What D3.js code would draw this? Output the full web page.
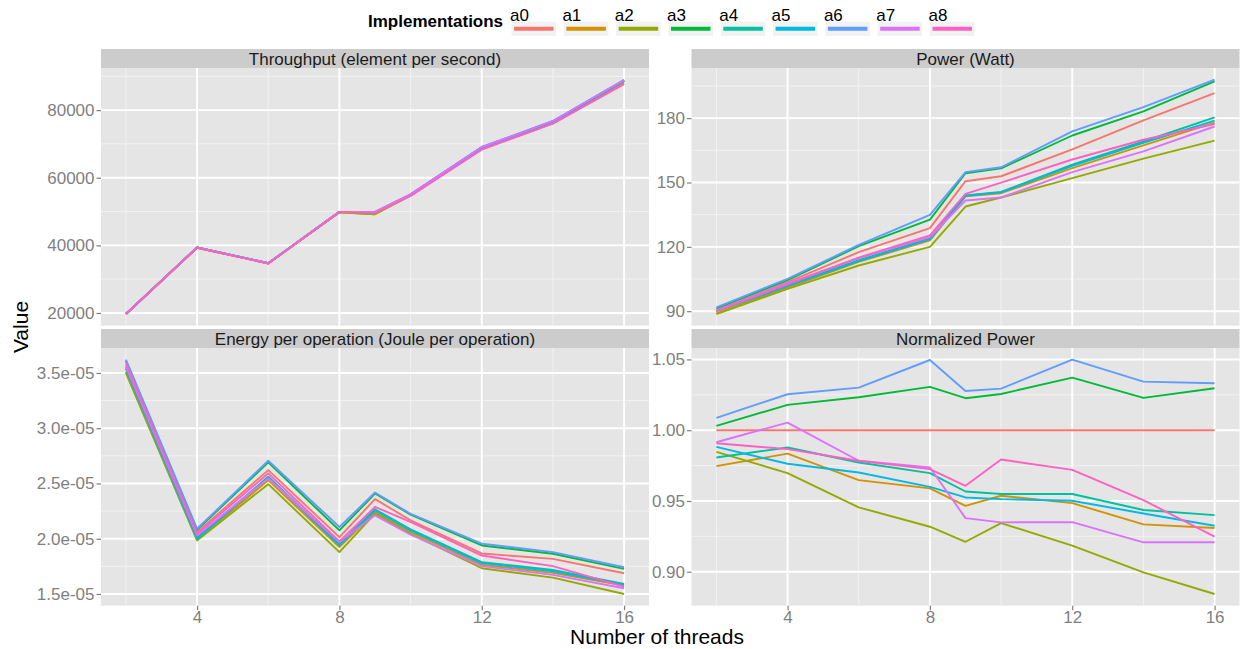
<!DOCTYPE html>
<html><head><meta charset="utf-8">
<script src="https://cdn.jsdelivr.net/npm/d3@7/dist/d3.min.js"></script>
<style>
body{margin:0;background:#fff}
text{font-family:"Liberation Sans",Arial,Helvetica,sans-serif}
</style>
</head><body><svg id="chart" width="1241" height="649"></svg>
<script>
const threads = [2, 4, 6, 8, 9, 10, 12, 14, 16];
const implementations = ["a0", "a1", "a2", "a3", "a4", "a5", "a6", "a7", "a8"];
const colors = ["#F8766D", "#D39200", "#93AA00", "#00BA38", "#00C19F", "#00B9E3", "#619CFF", "#DB72FB", "#FF61C3"];
const facetTitles = ["Throughput (element per second)", "Power (Watt)", "Energy per operation (Joule per operation)", "Normalized Power"];

const throughput = [
  [19700, 39300, 34700, 49900, 49600, 54700, 68500, 76100, 88000],
  [19700, 39300, 34700, 49800, 49200, 54800, 68800, 76500, 88600],
  [19700, 39300, 34700, 49800, 49200, 54800, 68800, 76500, 88600],
  [19700, 39400, 34700, 49900, 49800, 55000, 69000, 76700, 88800],
  [19700, 39400, 34700, 49900, 49800, 55000, 68900, 76600, 88700],
  [19700, 39400, 34700, 49900, 49800, 55000, 68900, 76600, 88700],
  [19700, 39400, 34700, 49900, 49900, 55100, 69100, 76800, 89000],
  [19700, 39400, 34700, 49900, 49900, 55100, 69100, 76800, 88900],
  [19700, 39300, 34600, 49900, 49600, 54600, 68300, 76000, 87700]
];
const power = [
  [90.5, 103.5, 117.5, 128.7, 150.6, 152.9, 165.4, 178.9, 191.7],
  [89.0, 101.0, 113.0, 123.0, 143.5, 145.0, 156.7, 167.3, 177.9],
  [88.7, 100.4, 111.3, 120.0, 138.8, 143.0, 152.0, 161.1, 169.5],
  [91.3, 104.5, 120.3, 132.7, 154.3, 156.6, 171.9, 183.1, 197.1],
  [90.0, 102.0, 113.8, 123.9, 144.0, 145.6, 158.3, 169.1, 180.3],
  [90.0, 101.7, 113.4, 123.6, 143.8, 145.4, 157.7, 168.5, 178.8],
  [91.8, 105.1, 120.9, 134.9, 154.8, 157.1, 173.8, 185.1, 197.9],
  [90.3, 103.0, 114.8, 124.5, 141.6, 143.0, 154.8, 164.5, 176.1],
  [90.0, 102.5, 115.0, 125.3, 144.7, 149.9, 160.7, 169.9, 177.2]
];
const energy = [
  [3.57e-5, 2.060e-5, 2.621e-5, 2.015e-5, 2.358e-5, 2.167e-5, 1.867e-5, 1.818e-5, 1.688e-5],
  [3.51e-5, 1.990e-5, 2.530e-5, 1.924e-5, 2.242e-5, 2.061e-5, 1.764e-5, 1.691e-5, 1.576e-5],
  [3.50e-5, 1.985e-5, 2.494e-5, 1.879e-5, 2.227e-5, 2.045e-5, 1.733e-5, 1.648e-5, 1.500e-5],
  [3.61e-5, 2.080e-5, 2.691e-5, 2.076e-5, 2.409e-5, 2.218e-5, 1.939e-5, 1.864e-5, 1.727e-5],
  [3.55e-5, 2.010e-5, 2.561e-5, 1.950e-5, 2.267e-5, 2.085e-5, 1.788e-5, 1.718e-5, 1.591e-5],
  [3.54e-5, 2.000e-5, 2.555e-5, 1.940e-5, 2.258e-5, 2.076e-5, 1.779e-5, 1.706e-5, 1.582e-5],
  [3.62e-5, 2.090e-5, 2.706e-5, 2.106e-5, 2.418e-5, 2.225e-5, 1.955e-5, 1.879e-5, 1.742e-5],
  [3.56e-5, 2.030e-5, 2.545e-5, 1.970e-5, 2.212e-5, 2.036e-5, 1.752e-5, 1.673e-5, 1.552e-5],
  [3.59e-5, 2.045e-5, 2.591e-5, 1.976e-5, 2.288e-5, 2.152e-5, 1.848e-5, 1.752e-5, 1.567e-5]
];
const normalizedPower = [
  [1.0000, 1.0000, 1.0000, 1.0000, 1.0000, 1.0000, 1.0000, 1.0000, 1.0000],
  [0.9746, 0.9835, 0.9647, 0.9589, 0.9466, 0.9537, 0.9485, 0.9335, 0.9309],
  [0.9847, 0.9697, 0.9455, 0.9318, 0.9212, 0.9344, 0.9184, 0.8996, 0.8843],
  [1.0031, 1.0179, 1.0233, 1.0306, 1.0226, 1.0256, 1.0371, 1.0228, 1.0296],
  [0.9807, 0.9878, 0.9772, 0.9697, 0.9567, 0.9549, 0.9549, 0.9436, 0.9400],
  [0.9882, 0.9763, 0.9701, 0.9600, 0.9525, 0.9513, 0.9502, 0.9412, 0.9325],
  [1.0087, 1.0254, 1.0301, 1.0496, 1.0277, 1.0294, 1.0498, 1.0343, 1.0332],
  [0.9915, 1.0054, 0.9784, 0.9737, 0.9379, 0.9349, 0.9351, 0.9208, 0.9208],
  [0.9908, 0.9866, 0.9784, 0.9725, 0.9607, 0.9793, 0.9720, 0.9506, 0.9248]
];

const xTicks = [4, 8, 12, 16];
const xMinorTicks = [2, 6, 10, 14];
const throughputTicks = [20000, 40000, 60000, 80000];
const powerTicks = [90, 120, 150, 180];
const energyTicks = [1.5e-5, 2.0e-5, 2.5e-5, 3.0e-5, 3.5e-5];
const normalizedTicks = [0.90, 0.95, 1.00, 1.05];

const fmtEnergy = d => d.toExponential(1).replace(/e-(\d)$/, "e-0$1");
const panels = [
  {title: facetTitles[0], data: throughput, ticks: throughputTicks, fmt: d3.format("d"), x0: 101, y0: 68},
  {title: facetTitles[1], data: power, ticks: powerTicks, fmt: d3.format("d"), x0: 691.5, y0: 68},
  {title: facetTitles[2], data: energy, ticks: energyTicks, fmt: fmtEnergy, x0: 101, y0: 348},
  {title: facetTitles[3], data: normalizedPower, ticks: normalizedTicks, fmt: d3.format(".2f"), x0: 691.5, y0: 348}
];
const PW = 548, PH = 257.7, SH = 19;

const svg = d3.select("#chart");
const axisGrey = "#7F7F7F";

function expand(ext) { const r = ext[1] - ext[0]; return [ext[0] - 0.05 * r, ext[1] + 0.05 * r]; }

const xExt = expand(d3.extent(threads));

panels.forEach((p, pi) => {
  const g = svg.append("g").attr("transform", `translate(${p.x0},${p.y0})`);
  const x = d3.scaleLinear().domain(xExt).range([0, PW]);
  const all = p.data.flat();
  const y = d3.scaleLinear().domain(expand(d3.extent(all))).range([PH, 0]);
  // strip
  g.append("rect").attr("x", 0).attr("y", -SH).attr("width", PW).attr("height", SH).attr("fill", "#CCCCCC");
  g.append("text").attr("x", PW / 2).attr("y", -SH / 2 + 6).attr("text-anchor", "middle")
    .attr("font-size", 17).attr("fill", "#1A1A1A").text(p.title);
  // background
  g.append("rect").attr("width", PW).attr("height", PH).attr("fill", "#E5E5E5");
  // minor grid
  const step = p.ticks[1] - p.ticks[0];
  const yMinor = [p.ticks[0] - step / 2, ...p.ticks.map(t => t + step / 2)].filter(v => y(v) >= 0 && y(v) <= PH);
  g.selectAll(".ymin").data(yMinor).join("line").attr("x1", 0).attr("x2", PW)
    .attr("y1", d => y(d)).attr("y2", d => y(d)).attr("stroke", "#F2F2F2").attr("stroke-width", 1);
  g.selectAll(".xmin").data(xMinorTicks).join("line").attr("y1", 0).attr("y2", PH)
    .attr("x1", d => x(d)).attr("x2", d => x(d)).attr("stroke", "#F2F2F2").attr("stroke-width", 1);
  // major grid
  g.selectAll(".ymaj").data(p.ticks).join("line").attr("x1", 0).attr("x2", PW)
    .attr("y1", d => y(d)).attr("y2", d => y(d)).attr("stroke", "#FFFFFF").attr("stroke-width", 1.9);
  g.selectAll(".xmaj").data(xTicks).join("line").attr("y1", 0).attr("y2", PH)
    .attr("x1", d => x(d)).attr("x2", d => x(d)).attr("stroke", "#FFFFFF").attr("stroke-width", 1.9);
  // y axis
  const yAxis = d3.axisLeft(y).tickValues(p.ticks).tickFormat(p.fmt).tickSize(4.5).tickPadding(2);
  const ya = g.append("g").call(yAxis);
  ya.select(".domain").remove();
  ya.selectAll("line").attr("stroke", axisGrey).attr("stroke-width", 1.2);
  ya.selectAll("text").attr("font-size", 17).attr("fill", axisGrey).attr("font-family", "Liberation Sans, Arial, sans-serif");
  // x axis on bottom panels
  if (pi >= 2) {
    const xAxis = d3.axisBottom(x).tickValues(xTicks).tickFormat(d3.format("d")).tickSize(4.5).tickPadding(1);
    const xa = g.append("g").attr("transform", `translate(0,${PH})`).call(xAxis);
    xa.select(".domain").remove();
    xa.selectAll("line").attr("stroke", axisGrey).attr("stroke-width", 1.2);
    xa.selectAll("text").attr("font-size", 17).attr("fill", axisGrey).attr("font-family", "Liberation Sans, Arial, sans-serif");
  }
  // lines
  const line = d3.line().x((d, i) => x(threads[i])).y(d => y(d));
  g.selectAll(".series").data(p.data).join("path")
    .attr("d", d => line(d)).attr("fill", "none")
    .attr("stroke", (d, i) => colors[i]).attr("stroke-width", 1.9)
    .attr("stroke-linejoin", "round").attr("stroke-linecap", "butt");
});

// axis titles
svg.append("text").attr("x", 657).attr("y", 644).attr("text-anchor", "middle")
  .attr("font-size", 21).attr("fill", "#000").text("Number of threads");
svg.append("text").attr("transform", "translate(28,327) rotate(-90)").attr("text-anchor", "middle")
  .attr("font-size", 21).attr("fill", "#000").text("Value");

// legend
const lg = svg.append("g");
lg.append("text").attr("x", 368).attr("y", 27).attr("font-size", 17).attr("font-weight", "bold")
  .attr("fill", "#000").text("Implementations");
const keyX = d3.scaleLinear().domain([0, 1]).range([511.6, 563.9]);
const keys = lg.selectAll(".key").data(implementations).join("g")
  .attr("transform", (d, i) => `translate(${keyX(i)},0)`);
keys.append("rect").attr("x", 0).attr("y", 21.7).attr("width", 44.4).attr("height", 14.3).attr("fill", "#F2F2F2");
keys.append("line").attr("x1", 2.5).attr("x2", 42).attr("y1", 28.7).attr("y2", 28.7)
  .attr("stroke", (d, i) => colors[i]).attr("stroke-width", 4);
keys.append("text").attr("x", -1.5).attr("y", 20.5).attr("font-size", 17).attr("fill", "#000").text(d => d);
</script></body></html>
